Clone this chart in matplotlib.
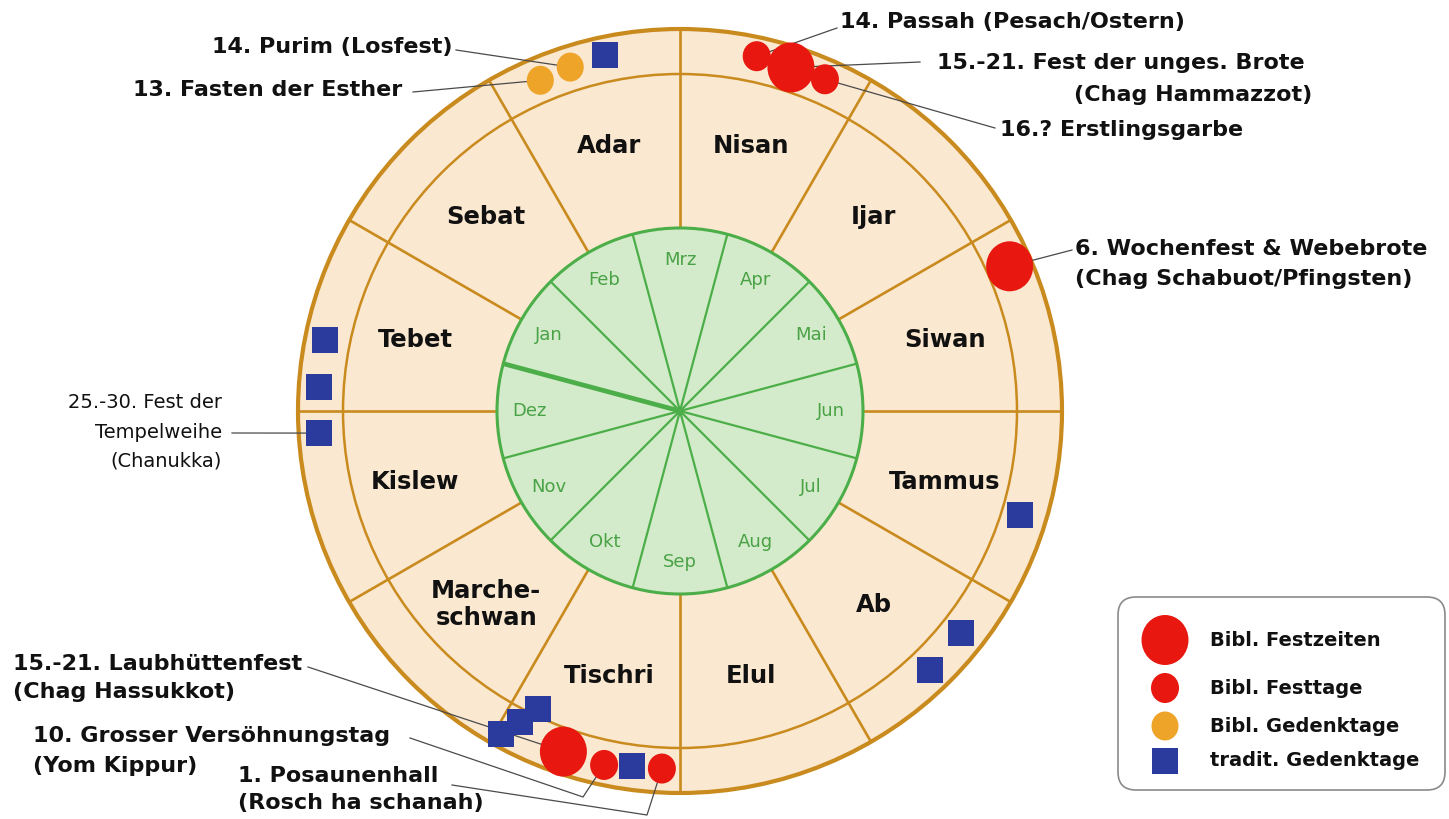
import numpy as np
import matplotlib
matplotlib.use("Agg")
import matplotlib.pyplot as plt
from matplotlib.patches import Circle, Ellipse, Rectangle, FancyBboxPatch

# ------------------------------------------------------------------ data
hebrew_months = ["Nisan", "Ijar", "Siwan", "Tammus", "Ab", "Elul", "Tischri",
                 "Marche-\nschwan", "Kislew", "Tebet", "Sebat", "Adar"]
gregorian_months = ["Mrz", "Apr", "Mai", "Jun", "Jul", "Aug", "Sep", "Okt",
                    "Nov", "Dez", "Jan", "Feb"]
year_start = 9.5          # boundary Dez/Jan (gregorian month index)

# festival markers: hebrew month index, day position within month, category
event_month = [0, 0, 0, 2, 3, 4, 4, 6, 6, 6, 6, 6, 6, 6, 8, 9, 9, 11, 11, 11]
event_day = [12.2, 17.9, 23.6, 6.3, 17.0, 8.3, 16.0, 2.9, 7.7, 12.1, 18.9,
             25.5, 27.2, 29.0, 26.5, 3.8, 11.3, 7.1, 12.3, 18.1]
event_kind = ["tag", "zeit", "tag", "zeit", "trad", "trad", "trad", "tag",
              "trad", "tag", "zeit", "trad", "trad", "trad", "trad", "trad",
              "trad", "gedenk", "gedenk", "trad"]

legend_kinds = ["zeit", "tag", "gedenk", "trad"]
legend_labels = ["Bibl. Festzeiten", "Bibl. Festtage", "Bibl. Gedenktage",
                 "tradit. Gedenktage"]

# annotated events (index into event lists) and their label lines
annot_event = [0, 1, 2, 3, 18, 17, 14, 10, 9, 7]
annot_text = [
    ["14. Passah (Pesach/Ostern)"],
    ["15.-21. Fest der unges. Brote", "(Chag Hammazzot)"],
    ["16.? Erstlingsgarbe"],
    ["6. Wochenfest & Webebrote", "(Chag Schabuot/Pfingsten)"],
    ["14. Purim (Losfest)"],
    ["13. Fasten der Esther"],
    ["25.-30. Fest der", "Tempelweihe", "(Chanukka)"],
    ["15.-21. Laubhüttenfest", "(Chag Hassukkot)"],
    ["10. Grosser Versöhnungstag", "(Yom Kippur)"],
    ["1. Posaunenhall", "(Rosch ha schanah)"],
]

# ------------------------------------------------------------------ layout / style
W, H = 1449, 819
CX, CY = 680, 411
R_OUT, R_MID, R_GREEN = 382, 337, 183
R_HLABEL, R_GLABEL = 274, 151
event_r = [363, 361, 362, 360, 356, 358, 360, 358, 358, 362, 360,
           330, 350, 369, 362, 362, 362, 359, 361, 364]

TAN_FILL = "#fbe8d0"
TAN_LINE = "#c98a1e"
GREEN_FILL = "#d3ebca"
GREEN_LINE = "#4cae48"
GREEN_TEXT = "#4aa246"
RED = "#e8170f"
ORANGE = "#eea429"
BLUE = "#2b3b9d"
LEADER = "#4a4a4a"

annot_pos = [  # (x, y, ha) per line
    [(840, 22, "left")],
    [(937, 63, "left"), (1312, 95, "right")],
    [(1000, 130, "left")],
    [(1075, 249, "left"), (1075, 279, "left")],
    [(453, 47, "right")],
    [(402, 90, "right")],
    [(222, 403, "right"), (222, 433, "right"), (222, 461, "right")],
    [(13, 664, "left"), (13, 692, "left")],
    [(33, 736, "left"), (33, 766, "left")],
    [(238, 776, "left"), (238, 803, "left")],
]
annot_path = [
    [(837, 28)], [(920, 62)], [(995, 128)], [(1072, 250)], [(456, 50)],
    [(413, 92)], [(232, 433)], [(308, 667)], [(410, 738), (583, 797)],
    [(452, 785), (647, 815)],
]
annot_bold = [True] * 6 + [False] + [True] * 3


def pos(r, ang_deg):
    a = np.deg2rad(ang_deg)
    return CX + r * np.cos(a), CY - r * np.sin(a)


def hebrew_angle(m, d):
    return 90.0 - 30.0 * m - d


def draw_marker(ax, x, y, kind, z=6):
    if kind == "zeit":
        p = Ellipse((x, y), 47, 50, fc=RED, ec="none", zorder=z)
    elif kind == "tag":
        p = Ellipse((x, y), 28, 30, fc=RED, ec="none", zorder=z)
    elif kind == "gedenk":
        p = Ellipse((x, y), 27, 29, fc=ORANGE, ec="none", zorder=z)
    else:
        p = Rectangle((x - 13, y - 13), 26, 26, fc=BLUE, ec="none", zorder=z)
    ax.add_patch(p)


fig = plt.figure(figsize=(W / 100, H / 100), dpi=100)
ax = fig.add_axes([0, 0, 1, 1])
ax.set_xlim(0, W)
ax.set_ylim(H, 0)
ax.axis("off")

# outer tan disc and middle ring
ax.add_patch(Circle((CX, CY), R_OUT, fc=TAN_FILL, ec=TAN_LINE, lw=3.0, zorder=1))
ax.add_patch(Circle((CX, CY), R_MID, fc="none", ec=TAN_LINE, lw=1.8, zorder=2))

# hebrew month boundaries
for i in range(12):
    a = hebrew_angle(i, 0)
    x0, y0 = pos(R_GREEN, a)
    x1, y1 = pos(R_OUT, a)
    ax.plot([x0, x1], [y0, y1], color=TAN_LINE, lw=1.9, zorder=2,
            solid_capstyle="butt")

# hebrew month names
for i, name in enumerate(hebrew_months):
    x, y = pos(R_HLABEL, hebrew_angle(i, 15))
    ax.text(x, y, name, ha="center", va="center", fontsize=17.5,
            fontweight="bold", color="#111111", linespacing=1.15, zorder=3)

# gregorian inner disc
ax.add_patch(Circle((CX, CY), R_GREEN, fc=GREEN_FILL, ec=GREEN_LINE, lw=2.2, zorder=3))
for j in range(12):
    a = 90.0 - 30.0 * (j + 0.5)
    x1, y1 = pos(R_GREEN, a)
    thick = abs((j + 0.5) - year_start) < 1e-9
    ax.plot([CX, x1], [CY, y1], color=GREEN_LINE, lw=3.4 if thick else 1.6,
            zorder=4, solid_capstyle="butt")
for j, name in enumerate(gregorian_months):
    x, y = pos(R_GLABEL, 90.0 - 30.0 * j)
    ax.text(x, y, name, ha="center", va="center", fontsize=13,
            color=GREEN_TEXT, zorder=5)

# markers
centers = []
for m, d, k, r in zip(event_month, event_day, event_kind, event_r):
    x, y = pos(r, hebrew_angle(m, d))
    centers.append((x, y))
    draw_marker(ax, x, y, k)

# annotations with leader lines
for ev, lines, poss, path, bold in zip(annot_event, annot_text, annot_pos,
                                       annot_path, annot_bold):
    for txt, (x, y, ha) in zip(lines, poss):
        ax.text(x, y, txt, ha=ha, va="center", fontsize=16 if bold else 14,
                fontweight="bold" if bold else "normal", color="#111111",
                zorder=7)
    pts = list(path) + [centers[ev]]
    ax.plot([p[0] for p in pts], [p[1] for p in pts], color=LEADER, lw=0.9,
            zorder=5.5)

# legend
ax.add_patch(FancyBboxPatch((1118, 597), 327, 193,
                            boxstyle="round,pad=0,rounding_size=18",
                            fc="white", ec="#8a8a8a", lw=1.2, zorder=6))
legend_y = [640, 688, 726, 761]
for k, lab, y in zip(legend_kinds, legend_labels, legend_y):
    draw_marker(ax, 1165, y, k, z=7)
    ax.text(1210, y, lab, ha="left", va="center", fontsize=14,
            fontweight="bold", color="#111111", zorder=7)

fig.savefig("out.png", dpi=100, facecolor="white")
